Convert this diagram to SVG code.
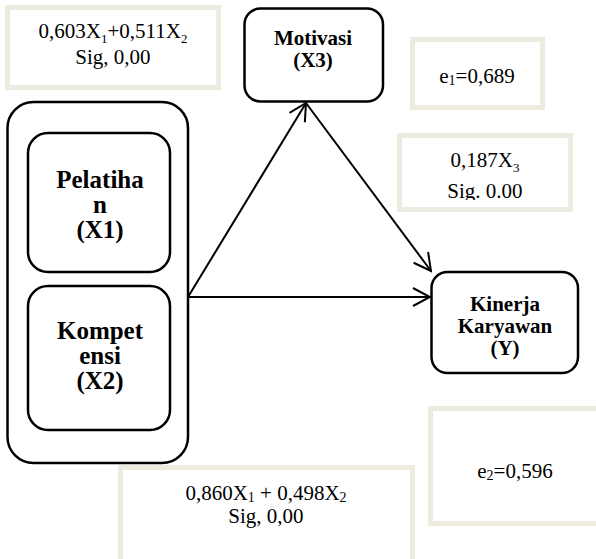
<svg xmlns="http://www.w3.org/2000/svg" width="596" height="559" viewBox="0 0 596 559">
<style>
.bg{fill:#ffffff}
.note{fill:#ffffff;stroke:#EDEADF;stroke-width:5}
.node{fill:#ffffff;stroke:#000000;stroke-width:2.5}
.lbl{font-family:"Liberation Serif","Times New Roman",serif;font-weight:bold;fill:#000;text-anchor:middle}
.txt{font-family:"Liberation Serif","Times New Roman",serif;font-size:21px;fill:#000;text-anchor:middle}
.conn{stroke:#000;stroke-width:2;fill:none}
</style>
<defs>
<marker id="arr" viewBox="0 0 20 20" refX="18" refY="10" markerWidth="20" markerHeight="20" markerUnits="userSpaceOnUse" orient="auto">
<path d="M1,1 L18,10 L1,19" fill="none" stroke="#000" stroke-width="2"/>
</marker>
<clipPath id="clip187"><rect x="400" y="135" width="170" height="65"/></clipPath>
</defs>
<rect class="bg" x="0" y="0" width="596" height="559"/>

<g id="note-x1x2-x3">
<rect class="note" x="7.5" y="7.5" width="211" height="80"/>
<text class="txt" x="113" y="38">0,603X<tspan font-size="13" dy="5">1</tspan><tspan dy="-5">+0,511X</tspan><tspan font-size="13" dy="5">2</tspan></text>
<text class="txt" x="113" y="64">Sig, 0,00</text>
</g>

<g id="note-e1">
<rect class="note" x="412.5" y="39.5" width="130" height="68"/>
<text class="txt" x="477" y="83">e<tspan font-size="14" dy="2">1</tspan><tspan dy="-2">=0,689</tspan></text>
</g>

<g id="note-x3-y">
<rect class="note" x="399.5" y="135.5" width="171" height="74"/>
<g clip-path="url(#clip187)">
<text class="txt" x="485" y="167">0,187X<tspan font-size="13" dy="5">3</tspan></text>
<text class="txt" x="485" y="198">Sig. 0.00</text>
</g>
</g>

<g id="note-e2">
<rect class="note" x="430.5" y="408.5" width="180" height="115"/>
<text class="txt" x="515" y="478">e<tspan font-size="14" dy="2">2</tspan><tspan dy="-2">=0,596</tspan></text>
</g>

<g id="note-x1x2-y">
<rect class="note" x="120.5" y="467.5" width="292" height="100"/>
<text class="txt" x="266" y="500">0,860X<tspan font-size="14" dy="2">1</tspan><tspan dy="-2"> + 0,498X</tspan><tspan font-size="14" dy="2">2</tspan></text>
<text class="txt" x="266" y="523">Sig, 0,00</text>
</g>

<g id="connectors">
<line class="conn" x1="188" y1="297" x2="306" y2="103" marker-end="url(#arr)"/>
<line class="conn" x1="306" y1="103" x2="431" y2="271" marker-end="url(#arr)"/>
<line class="conn" x1="188" y1="297" x2="430" y2="297" marker-end="url(#arr)"/>
</g>

<g id="group-x">
<rect class="node" x="7.5" y="102" width="180.5" height="361" rx="26"/>
</g>

<g id="pelatihan">
<rect class="node" x="28" y="133" width="142" height="139" rx="20"/>
<text class="lbl" font-size="25" x="100" y="188">Pelatiha</text>
<text class="lbl" font-size="25" x="100" y="213">n</text>
<text class="lbl" font-size="25" x="100" y="238">(X1)</text>
</g>

<g id="kompetensi">
<rect class="node" x="28" y="286" width="142" height="144" rx="20"/>
<text class="lbl" font-size="25" x="100" y="339">Kompet</text>
<text class="lbl" font-size="25" x="100" y="364">ensi</text>
<text class="lbl" font-size="25" x="100" y="389">(X2)</text>
</g>

<g id="motivasi">
<rect class="node" x="244.5" y="8.5" width="138.5" height="93" rx="16"/>
<text class="lbl" font-size="21" x="313" y="45">Motivasi</text>
<text class="lbl" font-size="21" x="313" y="67">(X3)</text>
</g>

<g id="kinerja">
<rect class="node" x="431.5" y="272" width="146.5" height="101" rx="16"/>
<text class="lbl" font-size="21" x="505" y="311">Kinerja</text>
<text class="lbl" font-size="21" x="505" y="333">Karyawan</text>
<text class="lbl" font-size="21" x="505" y="355">(Y)</text>
</g>
</svg>
